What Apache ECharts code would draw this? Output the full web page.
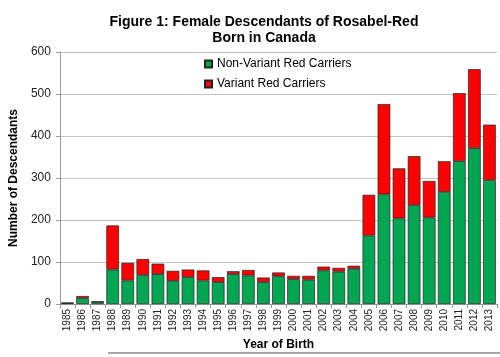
<!DOCTYPE html>
<html><head><meta charset="utf-8">
<script src="https://cdn.jsdelivr.net/npm/echarts@6/dist/echarts.min.js"></script>
<style>html,body{margin:0;padding:0;background:#fff}#c{width:500px;height:357px}</style>
</head><body><div id="c"></div>
<script>
var years = ['1985','1986','1987','1988','1989','1990','1991','1992','1993','1994','1995','1996','1997','1998','1999','2000','2001','2002','2003','2004','2005','2006','2007','2008','2009','2010','2011','2012','2013'];
var nonVariant = [2,14,5,82,56,69,71,55,64,56,52,71,68,52,66,59,58,80,77,84,163,261,204,235,206,267,340,371,295];
var variant =    [1,5,1,105,42,38,25,24,18,24,12,7,13,11,9,8,9,9,9,7,97,215,119,117,87,73,162,188,132];
var yTicks = [0,100,200,300,400,500,600];

var chart = echarts.init(document.getElementById('c'), null, {renderer:'canvas'});
var font = 'Liberation Sans, Arial, sans-serif';
chart.setOption({
  animation:false,
  textStyle:{fontFamily:font},
  title:{
    text:'Figure 1: Female Descendants of Rosabel-Red\nBorn in Canada',
    left:259, textAlign:'center', top:9,
    textStyle:{fontSize:14, fontWeight:'bold', color:'#000', lineHeight:16, fontFamily:font}
  },
  legend:{
    orient:'vertical', left:199, top:53, itemWidth:7, itemHeight:7, itemGap:8,
    textStyle:{fontSize:12, color:'#000', fontFamily:font},
    data:['Non-Variant Red Carriers','Variant Red Carriers'],
    icon:'rect'
  },
  grid:{left:55, right:3, top:52, bottom:53, containLabel:false},
  xAxis:{
    type:'category', data:years, name:'Year of Birth', nameLocation:'middle', nameGap:34,
    nameTextStyle:{fontSize:12, fontWeight:'bold', color:'#000', fontFamily:font},
    axisLine:{lineStyle:{color:'#999'}},
    axisTick:{show:true, length:4, lineStyle:{color:'#999'}},
    axisLabel:{rotate:90, fontSize:10, color:'#222', interval:0, margin:5, fontFamily:font}
  },
  yAxis:{
    type:'value', min:0, max:600, interval:100,
    name:'Number of Descendants', nameLocation:'middle', nameGap:38,
    nameTextStyle:{fontSize:12, fontWeight:'bold', color:'#000', fontFamily:font},
    axisLine:{show:true, lineStyle:{color:'#999'}},
    axisTick:{show:true, length:4, lineStyle:{color:'#999'}},
    axisLabel:{fontSize:12, color:'#222', margin:9, fontFamily:font,
      formatter:function(v){return yTicks.indexOf(v)>=0?String(v):'';}},
    splitLine:{lineStyle:{color:'#c4c4c4'}}
  },
  series:[
    {name:'Non-Variant Red Carriers', type:'bar', stack:'a', data:nonVariant, barCategoryGap:'16%',
     itemStyle:{color:'#00A651', borderColor:'#222', borderWidth:0.7}},
    {name:'Variant Red Carriers', type:'bar', stack:'a', data:variant,
     itemStyle:{color:'#FF0000', borderColor:'#222', borderWidth:0.7}}
  ],
  graphic:[{type:'line', shape:{x1:108,y1:353,x2:500,y2:353}, style:{stroke:'#888', lineWidth:1.5}}]
});
</script></body></html>
